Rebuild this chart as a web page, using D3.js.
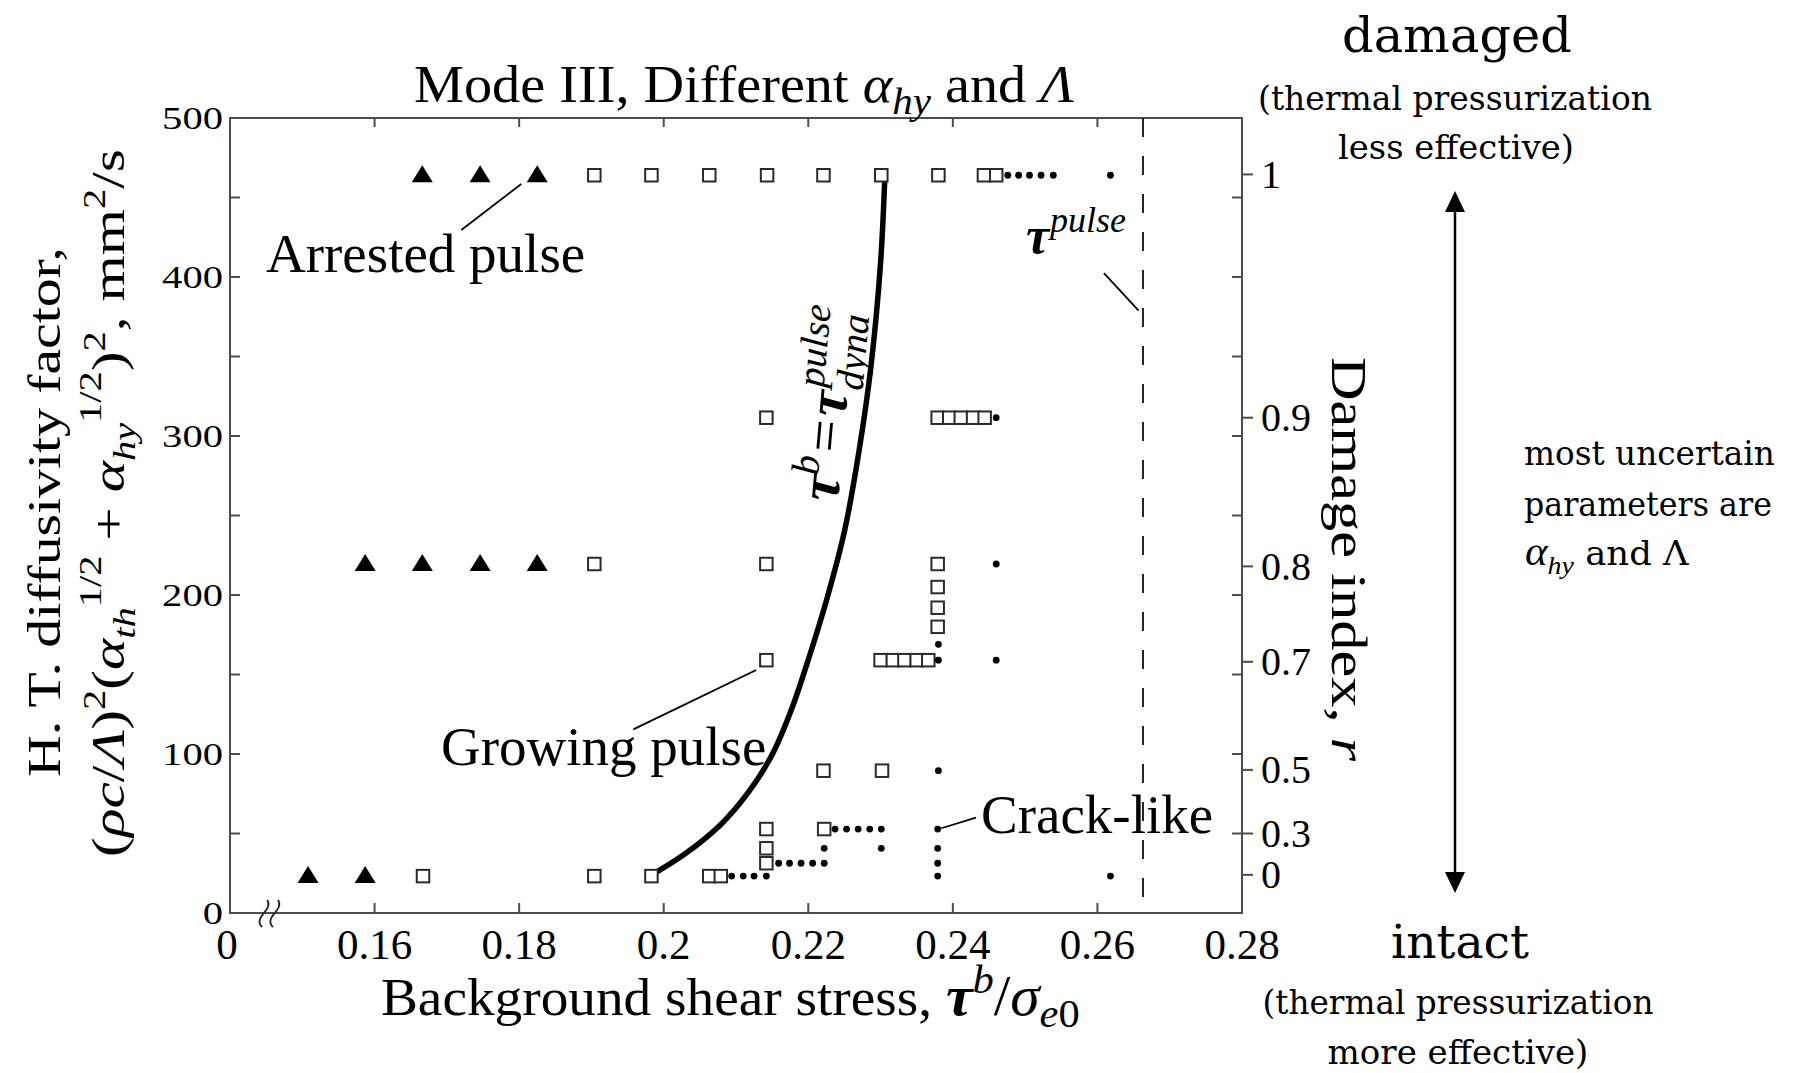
<!DOCTYPE html>
<html><head><meta charset="utf-8">
<script src="https://cdn.jsdelivr.net/npm/d3@7"></script>
<style>body{margin:0;background:#fff}svg{display:block}</style>
</head><body><div id="chart"></div>
<script>
// ---------------- data ----------------
const xTickValues = [0.14, 0.16, 0.18, 0.20, 0.22, 0.24, 0.26, 0.28];
const xTickLabels = ["0", "0.16", "0.18", "0.2", "0.22", "0.24", "0.26", "0.28"];
const yTickValues = [0, 50, 100, 150, 200, 250, 300, 350, 400, 450, 500];
const yLabelValues = [0, 100, 200, 300, 400, 500];
const rTickLabels = ["0", "0.3", "0.5", "0.7", "0.8", "0.9", "1"];
const rTickAt = [24, 50, 90, 158, 218, 311.5, 464.5];

// Arrested pulse (filled triangles): [tau_b/sigma_e0, HT factor]
const arrestedX = [0.1666, 0.1746, 0.1825, 0.1587, 0.1666, 0.1746, 0.1825, 0.1508, 0.1587];
const arrestedY = [464, 464, 464, 219.5, 219.5, 219.5, 219.5, 23.2, 23.2];
// Growing pulse (open squares)
const growingX = [0.1904, 0.1983, 0.2063, 0.2143, 0.2221, 0.2301, 0.2380, 0.2443, 0.2460,
                  0.2142, 0.2379, 0.2395, 0.2411, 0.2428, 0.2444,
                  0.1904, 0.2142, 0.2379, 0.2379, 0.2379, 0.2379,
                  0.2142, 0.2300, 0.2317, 0.2333, 0.2350, 0.2366,
                  0.2221, 0.2302,
                  0.2142, 0.2222, 0.2142, 0.2142,
                  0.1667, 0.1904, 0.1983, 0.2063, 0.2079];
const growingY = [464, 464, 464, 464, 464, 464, 464, 464, 464,
                  311.5, 311.5, 311.5, 311.5, 311.5, 311.5,
                  219.5, 219.5, 219.5, 205, 192, 180,
                  159, 159, 159, 159, 159, 159,
                  89.5, 89.5,
                  52.8, 52.8, 40.7, 31.3,
                  23.2, 23.2, 23.2, 23.2, 23.2];
// Crack-like (small dots)
const crackX = [0.2476, 0.2491, 0.2506, 0.2522, 0.2539, 0.2618,
                0.2460, 0.2460, 0.2380, 0.2380, 0.2460, 0.2380,
                0.2237, 0.2253, 0.2269, 0.2285, 0.2301, 0.2379,
                0.2222, 0.2301, 0.2379,
                0.2159, 0.2174, 0.2190, 0.2206, 0.2222, 0.2379,
                0.2094, 0.2110, 0.2125, 0.2142, 0.2379, 0.2618];
const crackY = [464, 464, 464, 464, 464, 464,
                311.5, 219.5, 169, 159, 159, 89.5,
                52.8, 52.8, 52.8, 52.8, 52.8, 52.8,
                40.7, 40.7, 40.7,
                31.3, 31.3, 31.3, 31.3, 31.3, 31.3,
                23.2, 23.2, 23.2, 23.2, 23.2, 23.2];
// tau_b = tau_dyna^pulse curve
const curveX = [0.1980, 0.2031, 0.2079, 0.2118, 0.2150, 0.2177, 0.2201, 0.2226, 0.2250, 0.2270, 0.2287, 0.2300, 0.2306];
const curveY = [23, 37.7, 55.7, 76.5, 99.6, 128.3, 160.7, 198, 240, 290, 345, 409, 464];
const tauPulse = 0.2663;

// ---------------- drawing ----------------
const W = 1793, H = 1073;
const SERIF = "'Liberation Serif','Times New Roman',serif";
const svg = d3.select("#chart").append("svg").attr("width", W).attr("height", H)
  .style("font-family", SERIF);
svg.append("rect").attr("width", W).attr("height", H).attr("fill", "#fff");

const x = d3.scaleLinear().domain([0.14, 0.28]).range([230, 1242]);
const y = d3.scaleLinear().domain([0, 500]).range([913, 118]);
const AX = "#4d4d4d";

function stretch(sel, target) {
  const w = sel.node().getBBox().width;
  const k = target / w;
  const ax = +sel.attr("x") || 0;
  sel.attr("transform", `translate(${ax},0) scale(${k},1) translate(${-ax},0)`);
}

const plot = svg.append("g");

plot.append("rect").attr("x", x(0.14)).attr("y", y(500))
  .attr("width", x(0.28) - x(0.14)).attr("height", y(0) - y(500))
  .attr("fill", "none").attr("stroke", AX).attr("stroke-width", 2);

const xt = xTickValues.slice(1);
plot.selectAll(".xtb").data(xt).join("line")
  .attr("x1", d => x(d)).attr("x2", d => x(d)).attr("y1", y(0)).attr("y2", y(0) - 10)
  .attr("stroke", AX).attr("stroke-width", 2);
plot.selectAll(".xtt").data(xt).join("line")
  .attr("x1", d => x(d)).attr("x2", d => x(d)).attr("y1", y(500)).attr("y2", y(500) + 9)
  .attr("stroke", AX).attr("stroke-width", 2);
plot.selectAll(".ytl").data(yTickValues).join("line")
  .attr("x1", x(0.14)).attr("x2", x(0.14) + 10).attr("y1", d => y(d)).attr("y2", d => y(d))
  .attr("stroke", AX).attr("stroke-width", 2);
plot.selectAll(".ytr").data(yTickValues).join("line")
  .attr("x1", x(0.28)).attr("x2", x(0.28) - 10).attr("y1", d => y(d)).attr("y2", d => y(d))
  .attr("stroke", AX).attr("stroke-width", 2);
plot.selectAll(".rt").data(rTickAt).join("line")
  .attr("x1", x(0.28)).attr("x2", x(0.28) + 11).attr("y1", d => y(d)).attr("y2", d => y(d))
  .attr("stroke", AX).attr("stroke-width", 2);

// axis break marks
[0.1450, 0.1465].forEach(v => {
  const cx = x(v), cy = y(0);
  plot.append("path")
    .attr("d", `M${cx - 4},${cy + 14} C${cx - 14},${cy + 4} ${cx + 8},${cy - 3} ${cx + 1},${cy - 13}`)
    .attr("fill", "none").attr("stroke", "#222").attr("stroke-width", 1.8);
});

xTickValues.forEach((v, i) => {
  plot.append("text").attr("x", x(v) + (i === 0 ? -3 : 0)).attr("y", 959)
    .attr("text-anchor", "middle").attr("font-size", 43).text(xTickLabels[i]);
});
yLabelValues.forEach(v => {
  const t = plot.append("text").attr("x", 223).attr("y", y(v) + 11)
    .attr("text-anchor", "end").attr("font-size", 32).text(String(v));
  stretch(t, String(v).length * 20.3);
});
rTickAt.forEach((v, i) => {
  plot.append("text").attr("x", 1261).attr("y", y(v) + 13.5)
    .attr("font-size", 40).text(rTickLabels[i]);
});

plot.append("line").attr("x1", x(tauPulse)).attr("x2", x(tauPulse))
  .attr("y1", y(500)).attr("y2", y(0))
  .attr("stroke", "#222").attr("stroke-width", 2).attr("stroke-dasharray", "19,19");

const line = d3.line().x(d => x(d[0])).y(d => y(d[1])).curve(d3.curveCatmullRom.alpha(0.5));
plot.append("path").datum(curveX.map((v, i) => [v, curveY[i]]))
  .attr("d", line).attr("fill", "none").attr("stroke", "#000").attr("stroke-width", 5.5)
  .attr("stroke-linecap", "round");

const S = 12.5;
plot.selectAll(".sq").data(growingX.map((v, i) => [v, growingY[i]])).join("rect")
  .attr("x", d => x(d[0]) - S / 2).attr("y", d => y(d[1]) - S / 2)
  .attr("width", S).attr("height", S)
  .attr("fill", "#fff").attr("stroke", "#2a2a2a").attr("stroke-width", 2);
plot.selectAll(".tri").data(arrestedX.map((v, i) => [v, arrestedY[i]])).join("path")
  .attr("d", d => { const cx = x(d[0]), cy = y(d[1]);
    return `M${cx},${cy - 10} L${cx + 10.5},${cy + 7} L${cx - 10.5},${cy + 7}Z`; })
  .attr("fill", "#000");
plot.selectAll(".dot").data(crackX.map((v, i) => [v, crackY[i]])).join("circle")
  .attr("cx", d => x(d[0])).attr("cy", d => y(d[1])).attr("r", 3.4).attr("fill", "#000");

const leaders = [
  [[0.1720, 429.6], [0.1803, 458.5]],
  [[0.1958, 115.5], [0.2128, 152.8]],
  [[0.2384, 53.3], [0.2432, 60]],
  [[0.2609, 402.5], [0.2657, 378.8]]
];
leaders.forEach(p => plot.append("line")
  .attr("x1", x(p[0][0])).attr("y1", y(p[0][1])).attr("x2", x(p[1][0])).attr("y2", y(p[1][1]))
  .attr("stroke", "#000").attr("stroke-width", 1.8));

plot.append("text").attr("x", 266).attr("y", 272).attr("font-size", 55).text("Arrested pulse");
plot.append("text").attr("x", 441).attr("y", 765).attr("font-size", 55).text("Growing pulse");
plot.append("text").attr("x", 981).attr("y", 833).attr("font-size", 55).text("Crack-like");

plot.append("text").attr("x", 1026).attr("y", 253).attr("font-size", 52)
  .attr("font-style", "italic").attr("font-weight", "bold").text("τ");
plot.append("text").attr("x", 1050).attr("y", 232).attr("font-size", 36)
  .attr("font-style", "italic").text("pulse");

const cl = plot.append("g").attr("transform", "translate(838,502) rotate(-85) scale(1.06)");
cl.append("text").attr("x", 0).attr("y", 0).attr("font-size", 54).attr("font-style", "italic")
  .attr("font-weight", "bold").text("τ");
cl.append("text").attr("x", 23).attr("y", -21).attr("font-size", 37).attr("font-style", "italic").text("b");
cl.append("text").attr("x", 46).attr("y", 0).attr("font-size", 54).text("=");
cl.append("text").attr("x", 80).attr("y", 0).attr("font-size", 54).attr("font-style", "italic")
  .attr("font-weight", "bold").text("τ");
cl.append("text").attr("x", 106).attr("y", -23).attr("font-size", 37).attr("font-style", "italic").text("pulse");
cl.append("text").attr("x", 106).attr("y", 14).attr("font-size", 37).attr("font-style", "italic").text("dyna");

// title
const title = svg.append("text").attr("x", 414).attr("y", 102).attr("font-size", 52);
title.append("tspan").text("Mode III, Different ");
title.append("tspan").attr("font-style", "italic").text("α");
title.append("tspan").attr("font-style", "italic").attr("font-size", 38).attr("dy", 12).text("hy");
title.append("tspan").attr("dy", -12).text(" and ");
title.append("tspan").attr("font-style", "italic").text("Λ");
stretch(title, 661);

// x label
const xl = svg.append("text").attr("x", 381).attr("y", 1015).attr("font-size", 52);
xl.append("tspan").text("Background shear stress, ");
xl.append("tspan").attr("font-style", "italic").attr("font-weight", "bold").attr("font-size", 56).text("τ");
xl.append("tspan").attr("font-style", "italic").attr("font-size", 40).attr("dy", -22).text("b");
xl.append("tspan").attr("font-size", 56).attr("dy", 22).text("/");
xl.append("tspan").attr("font-style", "italic").attr("font-size", 56).text("σ");
xl.append("tspan").attr("font-style", "italic").attr("font-size", 40).attr("dy", 12).text("e");
xl.append("tspan").attr("font-size", 40).text("0");
stretch(xl, 699);

// y label (two lines, rotated)
const yl1g = svg.append("g").attr("transform", "translate(60,512) rotate(-90)");
const yl1 = yl1g.append("text").attr("x", 0).attr("y", 0).attr("text-anchor", "middle")
  .attr("font-size", 46).text("H. T. diffusivity factor,");
stretch(yl1, 530);
const yl2g = svg.append("g").attr("transform", "translate(124,503) rotate(-90)");
const yl2 = yl2g.append("text").attr("x", 0).attr("y", 0).attr("text-anchor", "middle").attr("font-size", 47);
const SUP = 32;
yl2.append("tspan").text("(");
yl2.append("tspan").attr("font-style", "italic").text("ρc");
yl2.append("tspan").text("/");
yl2.append("tspan").attr("font-style", "italic").text("Λ");
yl2.append("tspan").text(")");
yl2.append("tspan").attr("font-size", SUP).attr("dy", -19).text("2");
yl2.append("tspan").attr("dy", 19).text("(");
yl2.append("tspan").attr("font-style", "italic").text("α");
yl2.append("tspan").attr("font-style", "italic").attr("font-size", SUP).attr("dy", 11).text("th");
yl2.append("tspan").attr("font-size", SUP).attr("dy", -34).text("1/2");
yl2.append("tspan").attr("dy", 23).text(" + ");
yl2.append("tspan").attr("font-style", "italic").text("α");
yl2.append("tspan").attr("font-style", "italic").attr("font-size", SUP).attr("dy", 11).text("hy");
yl2.append("tspan").attr("font-size", SUP).attr("dy", -34).text("1/2");
yl2.append("tspan").attr("dy", 23).text(")");
yl2.append("tspan").attr("font-size", SUP).attr("dy", -19).text("2");
yl2.append("tspan").attr("dy", 19).text(", mm");
yl2.append("tspan").attr("font-size", SUP).attr("dy", -19).text("2");
yl2.append("tspan").attr("dy", 19).text("/s");
stretch(yl2, 708);

// right axis label
const rlg = svg.append("g").attr("transform", "translate(1332,559) rotate(90)");
const rl = rlg.append("text").attr("x", 0).attr("y", 0).attr("text-anchor", "middle").attr("font-size", 50);
rl.append("tspan").text("Damage index, ");
rl.append("tspan").attr("font-style", "italic").text("r");
stretch(rl, 405);

// right-side annotations
const DJ = "'DejaVu Serif',serif";
const ann = svg.append("g").style("font-family", DJ).attr("text-anchor", "middle");
function annText(str, cx, by, fs, w) {
  const t = ann.append("text").attr("x", cx).attr("y", by).attr("font-size", fs).text(str);
  if (w) stretch(t, w);
  return t;
}
annText("damaged", 1457, 52, 49, 230);
annText("(thermal pressurization", 1455, 110, 33, 394);
annText("less effective)", 1456, 159, 33, 236);
annText("intact", 1460, 958, 47, 138);
annText("(thermal pressurization", 1458, 1014, 33, 391);
annText("more effective)", 1458, 1064, 33, 261);
const a1 = svg.append("g").style("font-family", DJ);
const m1 = a1.append("text").attr("x", 1524).attr("y", 465).attr("font-size", 33).text("most uncertain");
stretch(m1, 251);
const m2 = a1.append("text").attr("x", 1524).attr("y", 516).attr("font-size", 33).text("parameters are");
stretch(m2, 248);
const a3 = a1.append("text").attr("x", 1525).attr("y", 565).attr("font-size", 33);
a3.append("tspan").attr("font-family", SERIF).attr("font-style", "italic").attr("font-size", 40).text("α");
a3.append("tspan").attr("font-family", SERIF).attr("font-style", "italic").attr("font-size", 26).attr("dy", 9).text("hy");
a3.append("tspan").attr("dy", -9).text(" and Λ");
stretch(a3, 165);

// double arrow
const AXR = 1455;
svg.append("line").attr("x1", AXR).attr("x2", AXR).attr("y1", 205).attr("y2", 880)
  .attr("stroke", "#000").attr("stroke-width", 2.5);
svg.append("path").attr("d", `M${AXR},191 L${AXR + 10},212 L${AXR - 10},212Z`).attr("fill", "#000");
svg.append("path").attr("d", `M${AXR},893 L${AXR + 10},872 L${AXR - 10},872Z`).attr("fill", "#000");
</script></body></html>
